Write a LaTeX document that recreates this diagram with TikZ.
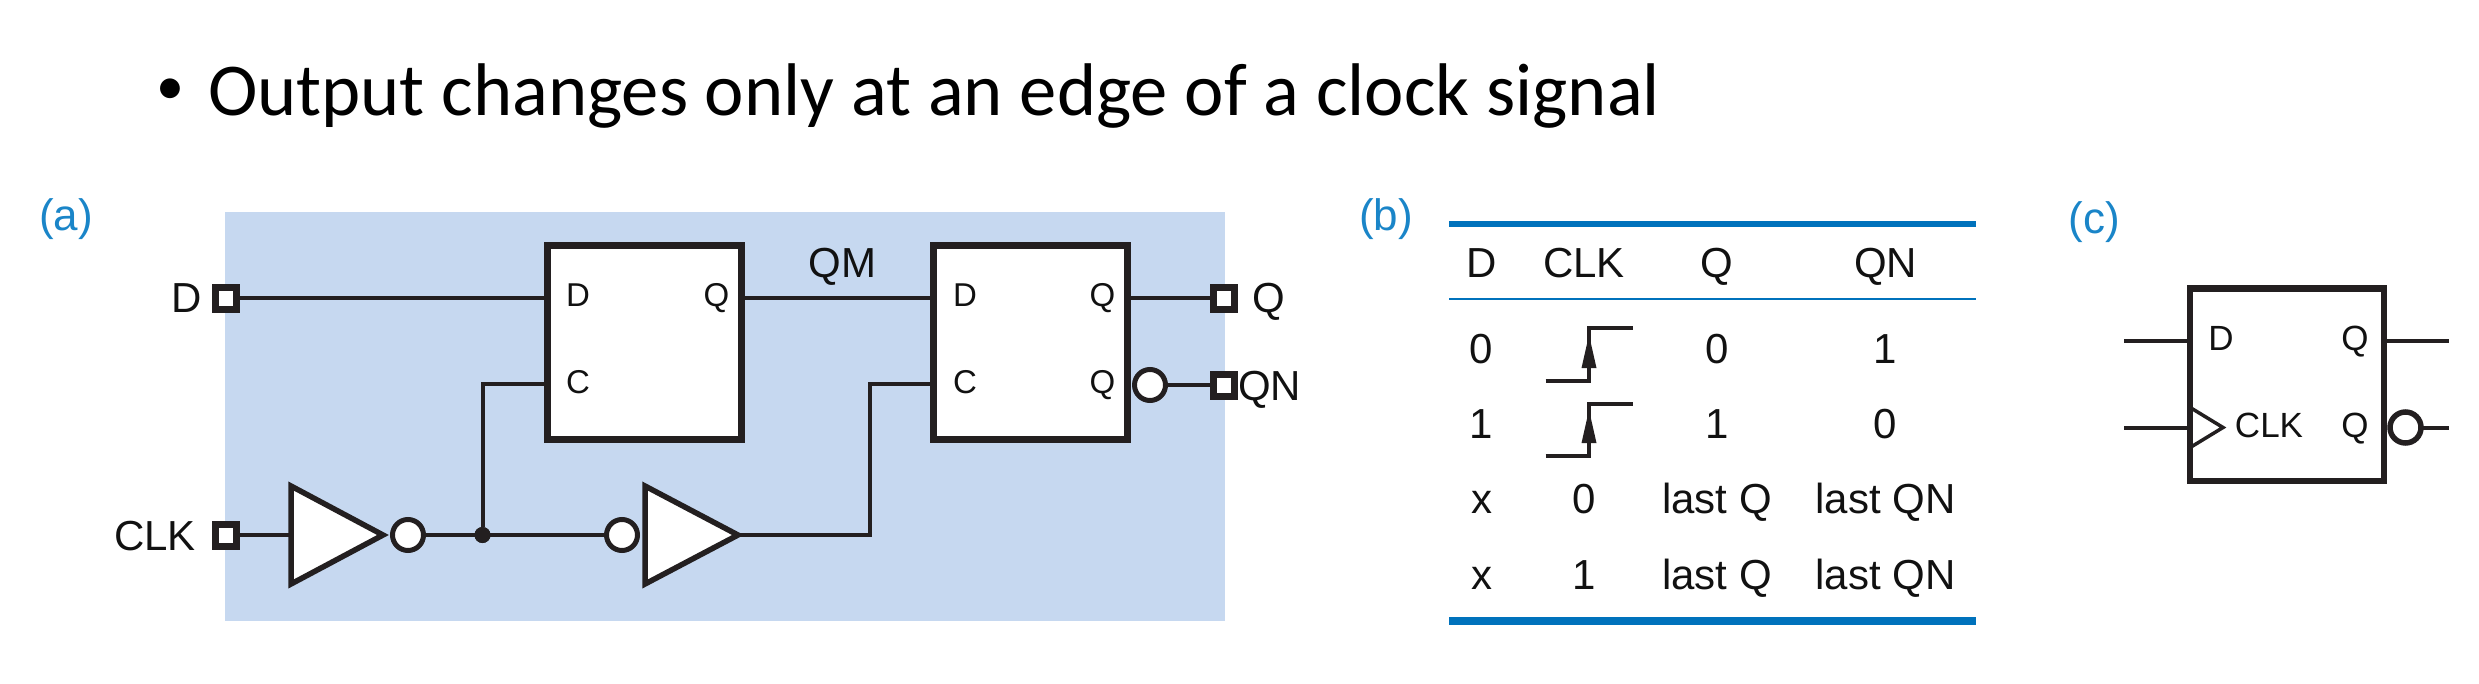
\documentclass[tikz,border=0pt]{standalone}
\usepackage{fontspec}
\setmainfont{Liberation Sans}
\newfontfamily\headfont{Carlito}
\definecolor{ink}{HTML}{231F20}
\definecolor{txt}{HTML}{111111}
\definecolor{panel}{HTML}{C6D8F0}
\definecolor{figblue}{HTML}{1A85C8}
\definecolor{rule}{HTML}{0072BC}
\newcommand{\fsz}[1]{\fontsize{#1}{#1}\selectfont}
\tikzset{
  wire/.style={draw=ink,line width=4pt,line cap=butt},
  ffbox/.style={draw=ink,fill=white,line width=7pt,inner sep=0pt,outer sep=0pt,minimum width=193.5pt,minimum height=193.5pt,miter limit=10},
  pinbox/.style={draw=ink,fill=white,line width=7pt,inner sep=0pt,outer sep=0pt,minimum width=21pt,minimum height=22pt},
  bubble/.style={circle,draw=ink,fill=white,line width=5pt,inner sep=0pt,outer sep=0pt,minimum size=31pt},
  gate/.style={draw=ink,fill=white,line width=5.5pt,line join=miter,miter limit=10},
  joint/.style={circle,fill=ink,inner sep=0pt,outer sep=0pt,minimum size=16pt},
  big/.style={inner sep=0pt,outer sep=0pt,text=txt,anchor=base,font=\fsz{42}},
  small/.style={inner sep=0pt,outer sep=0pt,text=txt,anchor=base,font=\fsz{33}},
  figlabel/.style={inner sep=0pt,outer sep=0pt,text=figblue,font=\fsz{44}},
  edgeline/.style={draw=ink,line width=4pt,line join=miter},
}
\begin{document}
\begin{tikzpicture}[x=1pt,y=-1pt]
\useasboundingbox (0,0) rectangle (2479,683);
% headline
\node[inner sep=0pt,outer sep=0pt,anchor=base,font=\headfont\fsz{56}] (bullet) at (170.5,104) {•};
\node[inner sep=0pt,outer sep=0pt,anchor=base west,font=\headfont\fsz{74.6}] (head) at (208,115) {Output changes only at an edge of a clock signal};
% panel a
\fill[panel] (224.5,211.5) rectangle (1225,621);
\node[figlabel] (la) at (66,219) {(a)};
% flip-flops
\node[ffbox] (ff1) at (644.5,342.25) {};
\node[ffbox] (ff2) at (1030.5,342.25) {};
\node[small] (ff1d) at (578,306.5) {D};
\node[small] (ff1c) at (578,393) {C};
\node[small] (ff1q) at (716.5,306.5) {Q};
\node[small] (ff2d) at (965,306.5) {D};
\node[small] (ff2c) at (965,393) {C};
\node[small] (ff2q) at (1102.5,306.5) {Q};
\node[small] (ff2qn) at (1102.5,393) {Q};
\coordinate (d1) at (548,298);
\coordinate (c1) at (548,384);
\coordinate (q1) at (741,298);
\coordinate (d2) at (933.5,298);
\coordinate (c2) at (933.5,384);
\coordinate (q2) at (1127.5,298);
% pins
\node[pinbox] (pd) at (225.5,298) {};
\node[pinbox] (pclk) at (225.5,535) {};
\node[pinbox] (pq) at (1224,298) {};
\node[pinbox] (pqn) at (1224,385) {};
% inverters
\coordinate (t1) at (383,535);
\coordinate (i1) at (291,535);
\coordinate (t2) at (738,535);
\coordinate (i2) at (645,535);
\node[joint] (dot) at (482.5,535) {};
\coordinate (up1) at (482.5,384);
\coordinate (up2) at (869.5,384);
\coordinate (dn2) at (869.5,535);
\coordinate (b1c) at (408,535);
\coordinate (b2c) at (622,535);
\coordinate (b3c) at (1150,385);
% wires
\draw[wire] (pd) -- (d1);
\draw[wire] (pclk) -- (i1);
\draw[wire] (dot) -- (up1) -- (c1);
\draw[wire] (q1) -- (d2);
\draw[wire] (t2) -- (dn2) -- (up2) -- (c2);
\draw[wire] (q2) -- (pq);
\draw[wire] (b3c) -- (pqn);
\draw[wire] (b1c) -- (b2c);
\draw[gate] (291,486) -- (t1) -- (291,584) -- cycle;
\draw[gate] (645,486) -- (t2) -- (645,584) -- cycle;
\node[bubble] (b1) at (b1c) {};
\node[bubble] (b2) at (b2c) {};
\node[bubble] (b3) at (b3c) {};
\node[pinbox] at (pqn) {};
\node[pinbox] at (pq) {};
\node[joint] at (dot) {};
% outer labels
\node[big,anchor=base east] (td) at (202,312) {D};
\node[big,anchor=base east] (tclk) at (196,550) {CLK};
\node[big] (tqm) at (842.5,277) {QM};
\node[big,anchor=base west] (tq) at (1252,312) {Q};
\node[big,anchor=base west] (tqn) at (1238,400) {QN};
% table b
\node[figlabel] (lb) at (1386,219) {(b)};
\coordinate (rl1) at (1449,224);\coordinate (rr1) at (1975.5,224);
\coordinate (rl2) at (1449,298.5);\coordinate (rr2) at (1975.5,298.5);
\coordinate (rl3) at (1449,621);\coordinate (rr3) at (1975.5,621);
\draw[rule,line width=6.5pt] (rl1) -- (rr1);
\draw[rule,line width=2pt] (rl2) -- (rr2);
\draw[rule,line width=7.5pt] (rl3) -- (rr3);
\node[big] (h1) at (1481.5,277) {D};
\node[big] (h2) at (1584,277) {CLK};
\node[big] (h3) at (1717,277) {Q};
\node[big] (h4) at (1885.5,277) {QN};
\node[big] (r1a) at (1481.5,363) {0};
\node[big] (r1c) at (1717,363) {0};
\node[big] (r1d) at (1885.5,363) {1};
\node[big] (r2a) at (1481.5,438) {1};
\node[big] (r2c) at (1717,438) {1};
\node[big] (r2d) at (1885.5,438) {0};
\node[big] (r3a) at (1481.5,513) {x};
\node[big] (r3b) at (1584,513) {0};
\node[big] (r3c) at (1717,513) {last Q};
\node[big] (r3d) at (1885.5,513) {last QN};
\node[big] (r4a) at (1481.5,589) {x};
\node[big] (r4b) at (1584,589) {1};
\node[big] (r4c) at (1717,589) {last Q};
\node[big] (r4d) at (1885.5,589) {last QN};
\draw[edgeline] (1545.5,381) -- (1589,381) -- (1589,328) -- (1633,328);
\fill[ink] (1589,335) -- (1596.5,368) -- (1581.5,368) -- cycle;
\draw[edgeline] (1545.5,456) -- (1589,456) -- (1589,403.5) -- (1633,403.5);
\fill[ink] (1589,410) -- (1596.5,443) -- (1581.5,443) -- cycle;
% symbol c
\node[figlabel] (lc) at (2094,222) {(c)};
\coordinate (cdin) at (2124,341);
\coordinate (cclkin) at (2124,427.5);
\coordinate (cqout) at (2449,341);
\coordinate (cqnout) at (2449,427.5);
\coordinate (cdw) at (2190,341);
\coordinate (cclkw) at (2190,427.5);
\coordinate (cqe) at (2384,341);
\coordinate (b4c) at (2405.5,427.5);
\draw[wire] (cdin) -- (cdw);
\draw[wire] (cclkin) -- (cclkw);
\draw[wire] (cqe) -- (cqout);
\draw[wire] (b4c) -- (cqnout);
\node[ffbox,line width=6.5pt,minimum width=194pt,minimum height=192.5pt] (ff3) at (2287,384.75) {};
\draw[draw=ink,line width=3.5pt,miter limit=10] (2191,408) -- (2223,427.5) -- (2191,447);
\node[bubble,line width=5.5pt] (b4) at (b4c) {};
\node[small,font=\fsz{35}] (c3d) at (2221,350) {D};
\node[small,font=\fsz{35}] (c3q) at (2355,350) {Q};
\node[small,font=\fsz{35}] (c3clk) at (2269,437) {CLK};
\node[small,font=\fsz{35}] (c3qn) at (2355,437) {Q};
\end{tikzpicture}
\end{document}
